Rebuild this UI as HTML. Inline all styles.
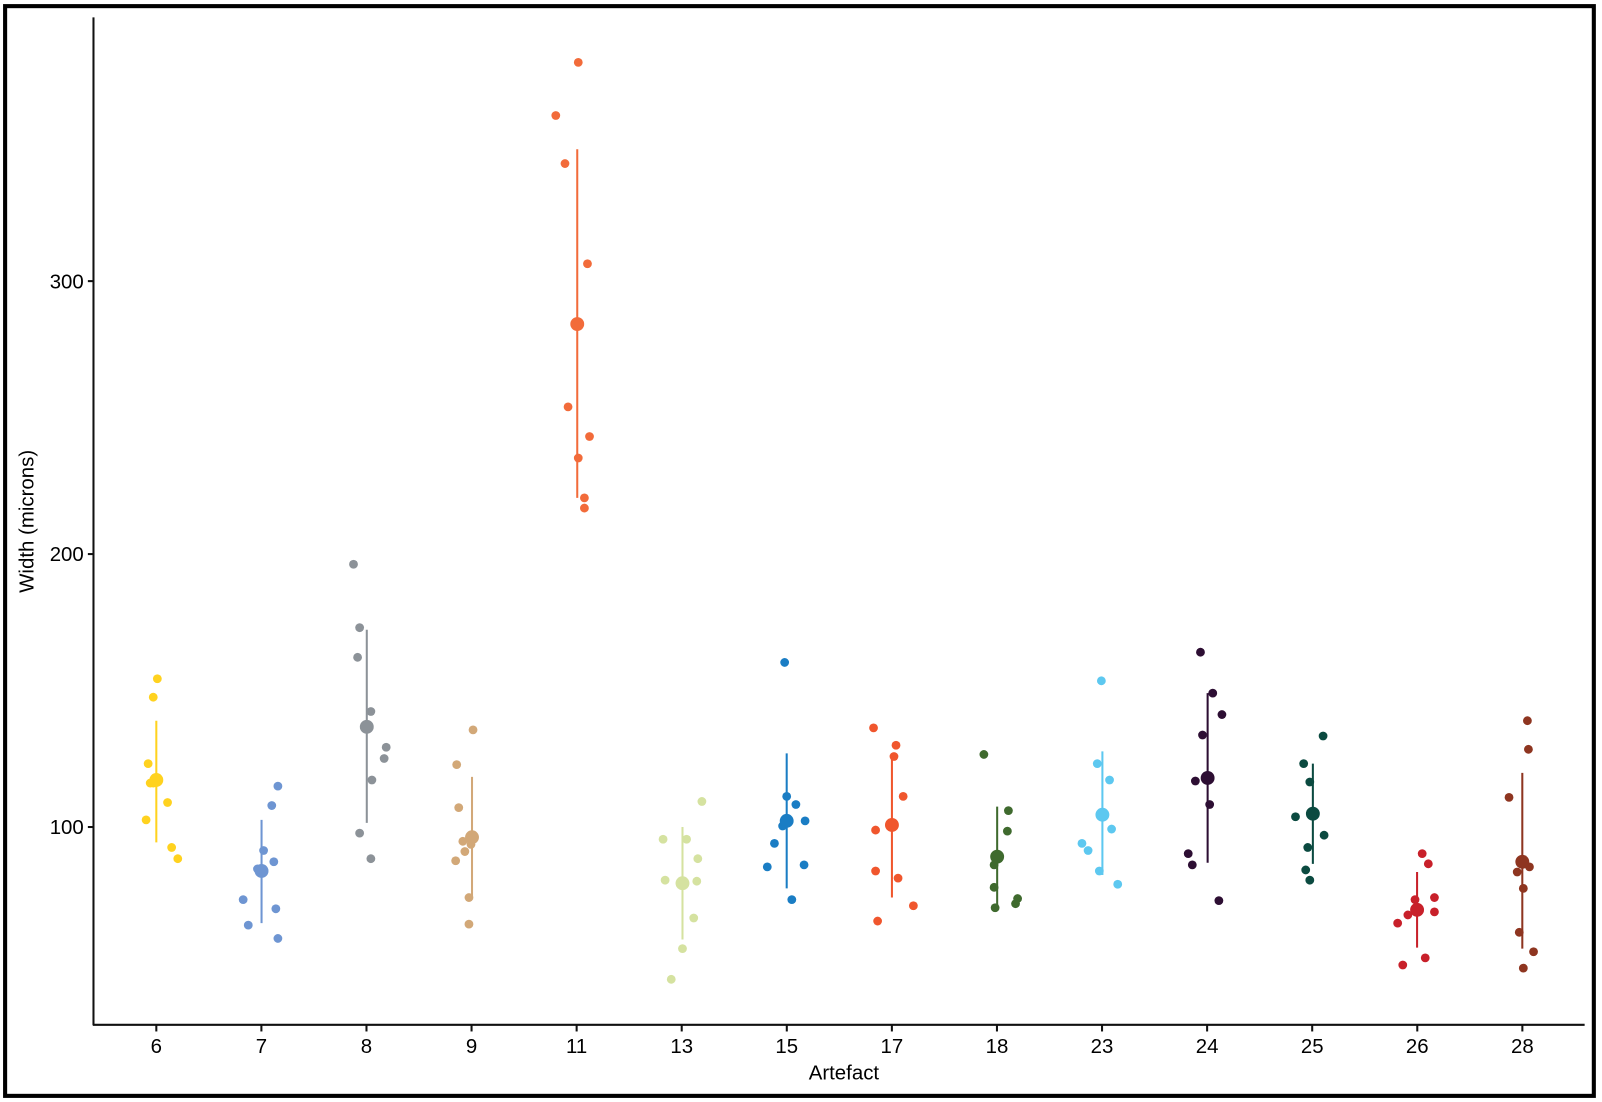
<!DOCTYPE html>
<html><head><meta charset="utf-8"><style>
html,body{margin:0;padding:0;background:#fff;width:1602px;height:1102px;overflow:hidden}
svg{display:block}
text{font-family:"Liberation Sans",Arial,sans-serif;fill:#000}
</style></head><body>
<svg width="1602" height="1102" viewBox="0 0 1568 1078" preserveAspectRatio="none">
<rect x="0" y="0" width="1568" height="1078" fill="#fff"/>
<rect x="5" y="6" width="1555" height="1066" fill="none" stroke="#000" stroke-width="4"/>
<line x1="91.5" y1="17" x2="91.5" y2="1003" stroke="#111" stroke-width="2"/>
<line x1="91" y1="1002.5" x2="1551" y2="1002.5" stroke="#111" stroke-width="2"/>
<g stroke="#111" stroke-width="2">
<line x1="86" y1="275" x2="91" y2="275"/><line x1="86" y1="542" x2="91" y2="542"/><line x1="86" y1="809" x2="91" y2="809"/>
</g>
<g font-size="20" text-anchor="end">
<text x="82" y="282">300</text><text x="82" y="549">200</text><text x="82" y="816">100</text>
</g>
<text transform="translate(33,510) rotate(-90)" font-size="20" text-anchor="middle">Width (microns)</text>
<text x="826" y="1056" font-size="20" text-anchor="middle">Artefact</text>
<g id="xt" stroke="#111" stroke-width="2"></g>
<g font-size="20" text-anchor="middle" id="xl"></g>
<g id="data"></g>
</svg>
<script>
const NS="http://www.w3.org/2000/svg";
const ticks=["6","7","8","9","11","13","15","17","18","23","24","25","26","28"];
const xt=document.getElementById("xt"),xl=document.getElementById("xl");
ticks.forEach((t,i)=>{const x=153+i*102.85;
const l=document.createElementNS(NS,"line");l.setAttribute("x1",x);l.setAttribute("x2",x);l.setAttribute("y1",1003);l.setAttribute("y2",1009);xt.appendChild(l);
const tx=document.createElementNS(NS,"text");tx.setAttribute("x",x);tx.setAttribute("y",1030);tx.textContent=t;xl.appendChild(tx);});
const S=[
["#FFD21F",[[154,664],[150,682],[145,747],[147,766],[150,766],[155,762],[164,785],[143,802],[168,829],[174,840]],[153,763],[705,824]],
["#6E95D2",[[272,769],[266,788],[258,832],[252,850],[268,843],[238,880],[270,889],[243,905],[272,918]],[256,852],[802,903]],
["#8C9298",[[346,552],[352,614],[350,643],[363,696],[378,731],[376,742],[364,763],[352,815],[363,840]],[359,711],[616,805]],
["#D2A878",[[463,714],[447,748],[449,790],[453,823],[455,833],[461,826],[446,842],[459,878],[459,904]],[462,819],[760,880]],
["#F26B3A",[[566,61],[544,113],[553,160],[575,258],[556,398],[577,427],[566,448],[572,487],[572,497]],[565,317],[146,487]],
["#D5E2A0",[[687,784],[649,821],[672,821],[683,840],[651,861],[682,862],[679,898],[668,928],[657,958]],[668,864],[809,919]],
["#1A7DC4",[[768,648],[770,779],[779,787],[770,802],[766,808],[788,803],[758,825],[751,848],[787,846],[775,880]],[770,803],[737,869]],
["#F0562D",[[855,712],[877,729],[875,740],[884,779],[857,812],[857,852],[879,859],[894,886],[859,901]],[873,807],[737,878]],
["#3F6A2E",[[963,738],[987,793],[986,813],[973,846],[973,868],[996,879],[994,884],[974,888]],[976,838],[789,888]],
["#5DC8F0",[[1078,666],[1074,747],[1086,763],[1088,811],[1059,825],[1065,832],[1076,852],[1094,865]],[1079,797],[735,856]],
["#2D0E33",[[1175,638],[1187,678],[1196,699],[1177,719],[1170,764],[1184,787],[1163,835],[1167,846],[1193,881]],[1182,761],[678,844]],
["#0B4A40",[[1295,720],[1276,747],[1282,765],[1268,799],[1296,817],[1280,829],[1278,851],[1282,861]],[1285,796],[747,845]],
["#C8202A",[[1392,835],[1398,845],[1385,880],[1404,878],[1378,895],[1404,892],[1368,903],[1395,937],[1373,944]],[1387,890],[853,927]],
["#8E3520",[[1495,705],[1496,733],[1477,780],[1485,853],[1497,848],[1491,869],[1487,912],[1501,931],[1491,947]],[1490,843],[756,928]]
];
const d=document.getElementById("data");
function c(x,y,r,f){const e=document.createElementNS(NS,"circle");e.setAttribute("cx",x);e.setAttribute("cy",y);e.setAttribute("r",r);e.setAttribute("fill",f);d.appendChild(e);}
S.forEach(s=>{const [col,pts,m,b]=s;
const l=document.createElementNS(NS,"line");l.setAttribute("x1",m[0]);l.setAttribute("x2",m[0]);l.setAttribute("y1",b[0]);l.setAttribute("y2",b[1]);l.setAttribute("stroke",col);l.setAttribute("stroke-width",2);d.appendChild(l);
pts.forEach(p=>c(p[0],p[1],4.3,col));c(m[0],m[1],6.8,col);});
</script>
</body></html>
